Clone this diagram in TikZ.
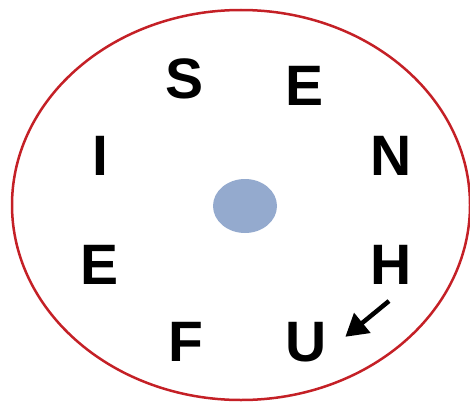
\documentclass[tikz,border=0pt]{standalone}
\usepackage{fontspec}
\setmainfont{Liberation Sans}
\usetikzlibrary{arrows.meta}

\definecolor{ringred}{RGB}{196,32,38}
\definecolor{dotblue}{RGB}{148,170,206}

\begin{document}
\begin{tikzpicture}[x=1pt, y=-1pt,
                    letter/.style={inner sep=0pt, font=\fontsize{57}{57}\selectfont\bfseries},
                    arr/.style={-{Triangle[length=22pt, width=25pt]}, line width=4.5pt}]
    \useasboundingbox (0,0) rectangle (470,401);
    \draw[ringred, line width=2.5pt] (241,205) ellipse [x radius=229, y radius=195];
    \fill[dotblue] (245,206) ellipse [x radius=32, y radius=27];
    \node[letter] (s)  at (185,79)  {S};
    \node[letter] (e1) at (305,86)  {E};
    \node[letter] (i)  at (100,156) {I};
    \node[letter] (n)  at (391,156) {N};
    \node[letter] (e2) at (100,265) {E};
    \node[letter] (h)  at (391,265) {H};
    \node[letter] (f)  at (186,342) {F};
    \node[letter] (u)  at (306,342) {U};
    \coordinate (tail) at (389,301);
    \draw[arr, shorten >=24pt] (tail) -- ([yshift=-10pt]u.east);
\end{tikzpicture}
\end{document}
